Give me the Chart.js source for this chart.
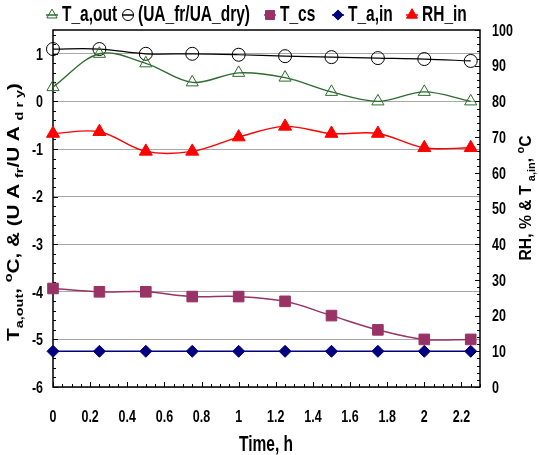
<!DOCTYPE html>
<html>
<head>
<meta charset="utf-8">
<script src="https://cdn.jsdelivr.net/npm/chart.js@4.4.1/dist/chart.umd.min.js"></script>
<style>
  html, body { margin: 0; padding: 0; background: #fff; }
  canvas { display: block; }
</style>
</head>
<body>
<canvas id="chart" width="539" height="455"></canvas>
<script>
// ── Data ──
const time    = [0, 0.25, 0.5, 0.75, 1, 1.25, 1.5, 1.75, 2, 2.25];
const taOut   = [0.3, 1.0, 0.8, 0.4, 0.6, 0.5, 0.2, 0.0, 0.2, 0.0];
const uaRatio = [1.1, 1.1, 1.0, 1.0, 0.98, 0.95, 0.93, 0.91, 0.89, 0.85];
const tCs     = [-3.93, -4.0, -4.0, -4.1, -4.1, -4.2, -4.5, -4.8, -5.0, -5.0];
const taIn    = [10, 10, 10, 10, 10, 10, 10, 10, 10, 10];
const rhIn    = [71, 71.5, 66, 66, 70, 73, 71, 71, 67, 67];

// ── Ticks ──
const xTicks     = [0, 0.2, 0.4, 0.6, 0.8, 1, 1.2, 1.4, 1.6, 1.8, 2, 2.2];
const leftTicks  = [-6, -5, -4, -3, -2, -1, 0, 1];
const rightTicks = [0, 10, 20, 30, 40, 50, 60, 70, 80, 90, 100];

const FONT = '"Liberation Sans", Arial, sans-serif';
const SY = 1.38; // vertical stretch of the lettering

const pts = arr => arr.map((v, i) => ({ x: time[i], y: v }));

function stretchText(ctx, str, x, y, size, align) {
  ctx.save();
  ctx.translate(x, y);
  ctx.scale(1, SY);
  ctx.font = `bold ${size}px ${FONT}`;
  ctx.textAlign = align;
  ctx.textBaseline = 'middle';
  ctx.fillStyle = '#000';
  ctx.fillText(str, 0, 0);
  ctx.restore();
}

// rotated title with sub/superscripts, stretched along its length
function richTitle(ctx, pieces, cx, cy, length, size) {
  const small = size * 0.7;
  ctx.save();
  let w = 0;
  pieces.forEach(p => {
    ctx.font = `bold ${p.s ? small : size}px ${FONT}`;
    p.w = ctx.measureText(p.t).width;
    w += p.w;
  });
  ctx.translate(cx, cy);
  ctx.rotate(-Math.PI / 2);
  ctx.scale(length / w, 1);
  ctx.textBaseline = 'middle';
  ctx.textAlign = 'left';
  ctx.fillStyle = '#000';
  let x = -w / 2;
  pieces.forEach(p => {
    ctx.font = `bold ${p.s ? small : size}px ${FONT}`;
    const dy = p.s === 'sub' ? size * 0.3 : p.s === 'sup' ? -size * 0.4 : 0;
    ctx.fillText(p.t, x, dy);
    x += p.w;
  });
  ctx.restore();
}

const legendX = [52, 128, 270, 338, 412];

const decor = {
  id: 'decor',
  beforeDatasetsDraw(chart) {
    const { ctx, chartArea: a, scales } = chart;
    ctx.save();
    ctx.strokeStyle = '#000';
    ctx.lineWidth = 1;
    ctx.beginPath();
    // x ticks (inward)
    for (let i = 0; i * 0.05 <= 2.3 + 1e-9; i++) {
      const px = Math.round(scales.x.getPixelForValue(i * 0.05)) + 0.5;
      const len = i % 4 === 0 ? 5 : 3;
      ctx.moveTo(px, a.bottom); ctx.lineTo(px, a.bottom - len);
    }
    // left ticks
    for (let i = 0; i * 0.2 <= 7.5 + 1e-9; i++) {
      const py = Math.round(scales.y.getPixelForValue(-6 + i * 0.2)) + 0.5;
      const len = i % 5 === 0 ? 5 : 3;
      ctx.moveTo(a.left, py); ctx.lineTo(a.left + len, py);
    }
    // right ticks
    for (let i = 0; i * 2 <= 100; i++) {
      const py = Math.round(scales.y2.getPixelForValue(i * 2)) + 0.5;
      const len = i % 5 === 0 ? 5 : 3;
      ctx.moveTo(a.right, py); ctx.lineTo(a.right - len, py);
    }
    ctx.stroke();
    ctx.lineWidth = 1.5;
    ctx.strokeRect(a.left, a.top, a.right - a.left, a.bottom - a.top);
    ctx.restore();
  },
  afterDraw(chart) {
    const { ctx, scales } = chart;
    // tick labels
    xTicks.forEach(v => stretchText(ctx, String(v), scales.x.getPixelForValue(v), 417, 12.5, 'center'));
    leftTicks.forEach(v => stretchText(ctx, String(v), 43, scales.y.getPixelForValue(v) + 1, 12.5, 'right'));
    rightTicks.forEach(v => stretchText(ctx, String(v), 492, scales.y2.getPixelForValue(v) + 1, 12.5, 'left'));
    // axis titles
    stretchText(ctx, 'Time, h', 266, 445, 15.5, 'center');
    richTitle(ctx, [
      { t: 'T' }, { t: 'a,out', s: 'sub' }, { t: ', ' }, { t: 'o', s: 'sup' },
      { t: 'C, & (U A ' }, { t: 'fr', s: 'sub' }, { t: '/U A ' }, { t: 'd r y', s: 'sub' }, { t: ')' }
    ], 15, 212, 258, 16);
    richTitle(ctx, [
      { t: 'RH, % & T ' }, { t: 'a,in', s: 'sub' }, { t: ', ' }, { t: 'o', s: 'sup' }, { t: 'C' }
    ], 527, 198, 125, 16);
    // legend
    chart.data.datasets.forEach((ds, i) => {
      const x = legendX[i], y = 15;
      ctx.save();
      ctx.strokeStyle = ds.borderColor;
      ctx.lineWidth = 1.5;
      ctx.beginPath(); ctx.moveTo(x - 6, y); ctx.lineTo(x + 6, y); ctx.stroke();
      ctx.fillStyle = ds.pointBackgroundColor;
      ctx.strokeStyle = ds.pointBorderColor;
      ctx.lineWidth = 1;
      Chart.helpers.drawPoint(ctx, { pointStyle: ds.pointStyle, radius: ds.pointRadius * 0.85, rotation: 0, borderWidth: 1 }, x, y);
      ctx.restore();
      stretchText(ctx, ds.label, x + 10, y, 15.5, 'left');
    });
  }
};

const line = (label, data, axis, color, style, radius, fill, width) => ({
  label, data: pts(data), yAxisID: axis,
  borderColor: color, borderWidth: width,
  pointStyle: style, pointRadius: radius,
  pointBackgroundColor: fill, pointBorderColor: color, pointBorderWidth: 1,
  tension: 0.35, clip: false
});

new Chart(document.getElementById('chart'), {
  type: 'line',
  data: {
    datasets: [
      line('T_a,out', taOut, 'y', '#2e6b2e', 'triangle', 7, 'rgba(0,0,0,0)', 1.4),
      line('(UA_fr/UA_dry)', uaRatio, 'y', '#000000', 'circle', 6.5, 'rgba(0,0,0,0)', 1.2),
      line('T_cs', tCs, 'y', '#993366', 'rect', 7.5, '#993366', 1.5),
      line('T_a,in', taIn, 'y2', '#000080', 'rectRot', 6, '#000080', 1.5),
      line('RH_in', rhIn, 'y2', '#ff0000', 'triangle', 7.5, '#ff0000', 1.4)
    ]
  },
  options: {
    responsive: false,
    animation: false,
    events: [],
    layout: { padding: { top: 30, left: 0, right: 0, bottom: 0 } },
    plugins: { legend: { display: false }, tooltip: { enabled: false } },
    scales: {
      x: {
        type: 'linear', min: 0, max: 2.3,
        grid: { display: false }, border: { display: false },
        ticks: { display: false },
        afterFit: s => { s.height = 68; }
      },
      y: {
        position: 'left', min: -6, max: 1.5,
        afterBuildTicks: s => { s.ticks = leftTicks.map(v => ({ value: v })); },
        grid: { color: '#a8a8a8', lineWidth: 1, drawTicks: false }, border: { display: false },
        ticks: { display: false },
        afterFit: s => { s.width = 53; }
      },
      y2: {
        position: 'right', min: 0, max: 100,
        grid: { display: false }, border: { display: false },
        ticks: { display: false },
        afterFit: s => { s.width = 59; }
      }
    }
  },
  plugins: [decor]
});
</script>
</body>
</html>
